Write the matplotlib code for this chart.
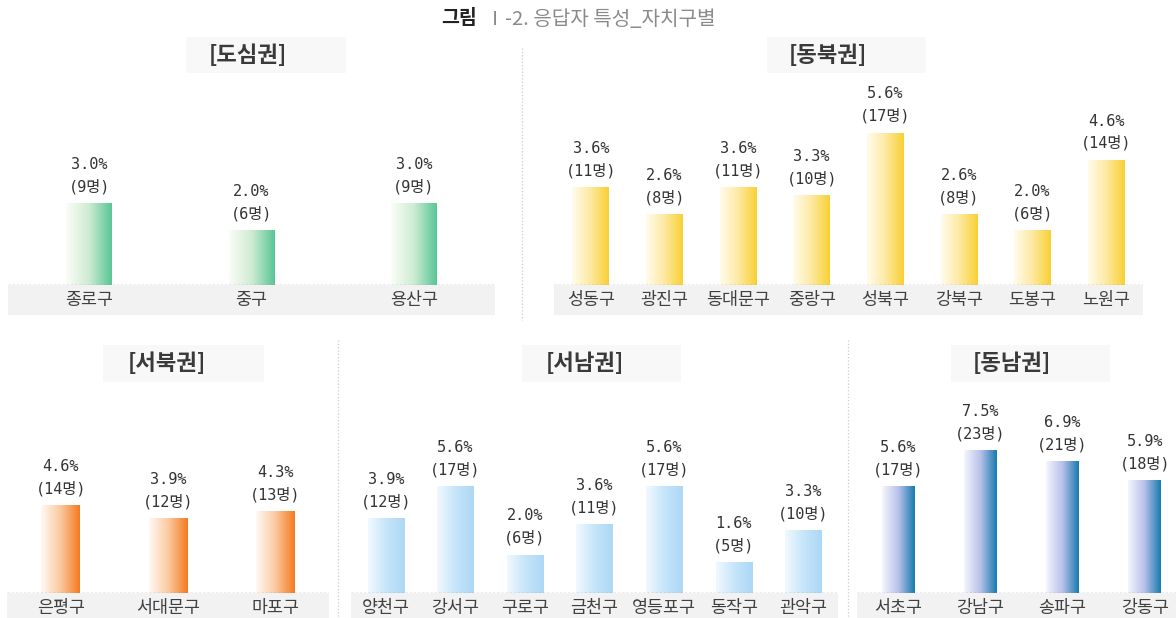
import numpy as np
import matplotlib
matplotlib.use("Agg")
import matplotlib.pyplot as plt
from matplotlib.colors import LinearSegmentedColormap
from matplotlib.patches import Rectangle
from matplotlib.lines import Line2D

plt.rcParams['font.family'] = ['Noto Sans CJK KR', 'DejaVu Sans']

W, H = 1176, 618

# 자치구별 응답자 비율(%)과 인원(명)
dosim_names = ['종로구', '중구', '용산구']
dosim_pct = [3.0, 2.0, 3.0]
dosim_n = [9, 6, 9]

dongbuk_names = ['성동구', '광진구', '동대문구', '중랑구', '성북구', '강북구', '도봉구', '노원구']
dongbuk_pct = [3.6, 2.6, 3.6, 3.3, 5.6, 2.6, 2.0, 4.6]
dongbuk_n = [11, 8, 11, 10, 17, 8, 6, 14]

seobuk_names = ['은평구', '서대문구', '마포구']
seobuk_pct = [4.6, 3.9, 4.3]
seobuk_n = [14, 12, 13]

seonam_names = ['양천구', '강서구', '구로구', '금천구', '영등포구', '동작구', '관악구']
seonam_pct = [3.9, 5.6, 2.0, 3.6, 5.6, 1.6, 3.3]
seonam_n = [12, 17, 6, 11, 17, 5, 10]

dongnam_names = ['서초구', '강남구', '송파구', '강동구']
dongnam_pct = [5.6, 7.5, 6.9, 5.9]
dongnam_n = [17, 23, 21, 18]

fig = plt.figure(figsize=(W / 100, H / 100), dpi=100)
fig.patch.set_facecolor('white')


def fx(px):
    return px / W


def fy(py):
    return 1 - py / H


# 그라데이션 색
cm_green = LinearSegmentedColormap.from_list('g', ['#fbfdf8', '#cdecd2', '#58c596'])
cm_yellow = LinearSegmentedColormap.from_list('y', ['#fffcec', '#fde9a2', '#f8d033'])
cm_orange = LinearSegmentedColormap.from_list('o', ['#fffaf5', '#fbc99f', '#f47a1f'])
cm_lblue = LinearSegmentedColormap.from_list('lb', ['#f2f9fe', '#c6e5fa', '#acd7f6'])
cm_blue = LinearSegmentedColormap.from_list('b', ['#f5f6fd', '#b8c1ea', '#177aae'])

grad = np.linspace(0, 1, 256).reshape(1, -1)
lab_font = ['DejaVu Sans Mono', 'Noto Sans CJK KR']


def panel(title, names, pct, n, x0, x1, ybase, ytop, ymax, width, cmap,
          tbox, ttext_x, ttext_y):
    ax = fig.add_axes([fx(x0), fy(ybase), fx(x1 - x0), (ybase - ytop) / H])
    xs = np.arange(len(names))
    bars = ax.bar(xs, pct, width=width, color='none', edgecolor='none')
    for b, p, c in zip(bars, pct, n):
        bx = b.get_x()
        cx = bx + b.get_width() / 2
        ax.imshow(grad, extent=(bx, bx + b.get_width(), 0, b.get_height()),
                  aspect='auto', cmap=cmap, zorder=2, interpolation='bilinear')
        ax.annotate(f'{p:.1f}%', (cx, p), xytext=(0, 39), textcoords='offset pixels',
                    ha='center', va='center', fontsize=11, color='#333333',
                    family=lab_font)
        ax.annotate(f'({c}명)', (cx, p), xytext=(0, 17), textcoords='offset pixels',
                    ha='center', va='center', fontsize=11, color='#333333',
                    family=lab_font)
    ax.set_xlim(-0.5, len(names) - 0.5)
    ax.set_ylim(0, ymax)
    ax.axhline(0, color='#999999', lw=1.0, ls=(0, (1.5, 1.5)), zorder=3)
    for s in ax.spines.values():
        s.set_visible(False)
    ax.set_yticks([])
    ax.set_xticks(xs)
    ax.set_xticklabels(names, fontsize=12.5, color='#404040')
    ax.tick_params(axis='x', length=0, pad=4)
    band = 30 / (ybase - ytop)
    ax.add_patch(Rectangle((0, -band), 1, band, transform=ax.transAxes,
                           facecolor='#f2f2f2', edgecolor='none',
                           clip_on=False, zorder=0.5))
    ax.patch.set_alpha(0)
    # 권역 제목
    bx0, bx1, by0, by1 = tbox
    fig.add_artist(Rectangle((fx(bx0), fy(by1)), fx(bx1 - bx0), (by1 - by0) / H,
                             transform=fig.transFigure, facecolor='#f8f8f8',
                             edgecolor='none', zorder=0))
    fig.text(fx(ttext_x), fy(ttext_y), title, ha='center', va='center',
             fontsize=16, fontweight='bold', color='#3a3a3a')
    return ax


# 위쪽 줄: 27.1 px / %
panel('[도심권]', dosim_names, dosim_pct, dosim_n, 8, 495, 285, 95, 7.0, 0.28,
      cm_green, (186, 346, 37, 73), 248, 56)
panel('[동북권]', dongbuk_names, dongbuk_pct, dongbuk_n, 554, 1143, 285, 95, 7.0, 0.5,
      cm_yellow, (767, 926, 37, 73), 828, 56)
# 아래쪽 줄: 19 px / %
panel('[서북권]', seobuk_names, seobuk_pct, seobuk_n, 7, 329, 593, 422, 9.0, 0.36,
      cm_orange, (103, 264, 345, 382), 167, 363)
panel('[서남권]', seonam_names, seonam_pct, seonam_n, 351, 838, 593, 422, 9.0, 0.52,
      cm_lblue, (522, 681, 345, 382), 585, 363)
panel('[동남권]', dongnam_names, dongnam_pct, dongnam_n, 857, 1186, 593, 422, 9.0, 0.4,
      cm_blue, (951, 1110, 345, 382), 1012, 363)

# 구분선
for x, ya, yb in [(522, 48, 320), (338, 340, 618), (848, 340, 618)]:
    fig.add_artist(Line2D([fx(x), fx(x)], [fy(ya), fy(yb)], transform=fig.transFigure,
                          color='#cccccc', lw=0.9, ls=':'))

# 그림 제목
fig.text(fx(477), fy(19), '그림', ha='right', va='center', fontsize=14,
         fontweight='bold', color='#222222')
fig.text(fx(485), fy(19), 'Ⅰ-2. 응답자 특성_자치구별', ha='left', va='center',
         fontsize=14.5, color='#8a8a8a')

fig.savefig('out.png', dpi=100)
